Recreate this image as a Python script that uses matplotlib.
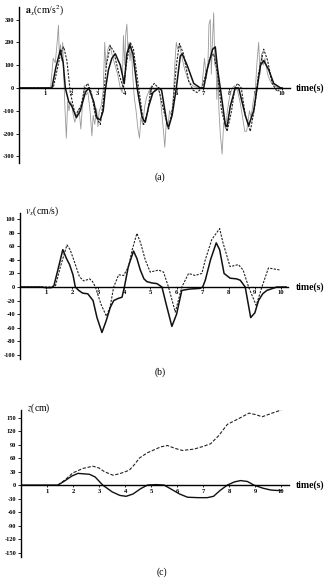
import matplotlib
matplotlib.use("Agg")
import matplotlib.pyplot as plt

W, H = 330, 584

# ---- panel (a): acceleration a_x (cm/s^2) ----
a_noisy_t = [0, 1.2, 1.3, 1.38, 1.45, 1.5, 1.53, 1.58, 1.62, 1.66, 1.7, 1.75, 1.8, 1.85, 1.9, 1.95,
             2.0, 2.05, 2.12, 2.2, 2.28, 2.35, 2.42, 2.48, 2.55, 2.62, 2.7, 2.77, 2.82, 2.88, 2.95,
             3.0, 3.05, 3.12, 3.2, 3.26, 3.3, 3.38, 3.45, 3.55, 3.65, 3.75, 3.85, 3.92, 3.97,
             4.02, 4.06, 4.1, 4.14, 4.18, 4.22, 4.27, 4.32, 4.38, 4.45, 4.52, 4.58, 4.63, 4.7,
             4.78, 4.85, 4.95, 5.05, 5.15, 5.25, 5.35, 5.42, 5.5, 5.54, 5.6, 5.66, 5.72, 5.8,
             5.87, 5.93, 5.98, 6.03, 6.1, 6.2, 6.3, 6.45, 6.6, 6.8, 6.95, 7.05, 7.12, 7.18, 7.22,
             7.27, 7.31, 7.35, 7.4, 7.44, 7.48, 7.52, 7.56, 7.6, 7.65, 7.72, 7.78, 7.85, 7.92,
             8.0, 8.1, 8.2, 8.3, 8.4, 8.5, 8.58, 8.65, 8.7, 8.76, 8.82, 8.9, 8.98, 9.05, 9.11,
             9.16, 9.22, 9.28, 9.35, 9.45, 9.55, 9.7, 9.85, 10.0]
a_noisy = [0, 0, 130, 110, 200, 275, 150, 190, 120, 200, 60, -100, -220, -60, -100, -60,
           -70, -110, -150, -120, -90, -180, -60, 10, -30, -20, -100, -210, -120, -160, -90,
           -170, -100, -80, -10, 200, 90, 170, 190, 140, 100, 60, 0, -20, 230,
           100, 240, 280, 170, 200, 120, 180, 60, -40, -100, -180, -220, -130, -160,
           -80, -40, -10, 10, -10, 0, -20, -100, -200, -260, -150, -180, -100, -120,
           -30, 120, 200, 170, 190, 130, 80, 30, 10, 0, 0, 130, 40, 100, 280,
           300, 60, 200, 330, 100, 150, -50, 80, -100, -200, -290, -150, -180, -100,
           -40, 0, 10, -10, -60, -130, -190, -190, -150, -100, -130, -60, -10, 120, 200,
           60, 150, 100, 130, 60, 30, 10, 0, 0]

a_filt_t = [0, 1.25, 1.4, 1.57, 1.68, 1.76, 1.89, 2.01, 2.18, 2.33, 2.52, 2.65, 2.84, 2.96, 3.09,
            3.2, 3.28, 3.4, 3.53, 3.66, 3.85, 4.0, 4.1, 4.21, 4.33, 4.49, 4.68, 4.8, 4.93, 5.09,
            5.31, 5.42, 5.63, 5.69, 5.82, 5.98, 6.13, 6.2, 6.39, 6.64, 6.89, 7.02, 7.15, 7.36,
            7.46, 7.55, 7.65, 7.84, 7.91, 8.03, 8.22, 8.35, 8.6, 8.73, 8.92, 9.05, 9.18, 9.3,
            9.49, 9.68, 9.94, 10.0]
a_filt = [0, 0, 90, 166, 110, 0, -60, -80, -130, -100, -20, 0, -60, -130, -140,
          -100, -10, 80, 130, 150, 100, 20, 150, 190, 150, 0, -130, -150, -80, -20,
          0, -10, -160, -170, -120, 0, 140, 150, 100, 20, 0, 0, 80, 170,
          180, 80, 0, -160, -170, -80, 0, 0, -120, -165, -100, 0, 100, 120,
          80, 20, 0, 0]

a_model_t = [0, 1.3, 1.45, 1.6, 1.7, 1.82, 1.95, 2.14, 2.35, 2.5, 2.61, 2.75, 2.9, 3.09, 3.2,
             3.32, 3.47, 3.6, 3.8, 3.97, 4.1, 4.23, 4.35, 4.5, 4.74, 4.9, 5.02, 5.14, 5.3, 5.5,
             5.69, 5.85, 5.98, 6.1, 6.25, 6.45, 6.62, 6.77, 6.95, 7.1, 7.25, 7.4, 7.55, 7.7,
             7.91, 8.08, 8.2, 8.31, 8.45, 8.6, 8.79, 8.95, 9.1, 9.3, 9.45, 9.62, 9.81, 10.0]
a_model = [0, 0, 80, 160, 180, 120, -20, -120, -80, 0, 20, -20, -120, -160, -60,
           100, 185, 160, 60, 0, 120, 200, 170, 40, -160, -100, 0, 20, 0, -100,
           -180, -80, 100, 195, 150, 30, -10, -20, 0, 60, 130, 150, 60, -100,
           -190, -100, 0, 20, 0, -120, -190, -90, 60, 170, 120, 20, -15, 0]

# ---- panel (b): velocity v_x (cm/s) ----
v_meas_t = [0, 0.8, 1.0, 1.2, 1.3, 1.45, 1.64, 1.78, 1.9, 2.03, 2.12, 2.25, 2.4, 2.6, 2.8,
            2.95, 3.14, 3.3, 3.46, 3.59, 3.75, 3.91, 4.0, 4.15, 4.35, 4.48, 4.61, 4.75, 4.86,
            5.05, 5.25, 5.44, 5.6, 5.82, 6.0, 6.2, 6.5, 6.9, 7.0, 7.1, 7.3, 7.52, 7.65, 7.82,
            8.05, 8.3, 8.44, 8.63, 8.84, 9.0, 9.14, 9.3, 9.46, 9.84, 10.2]
v_meas = [0, 0, -1, -1, 2, 25, 55, 42, 33, 18, 0, -5, -9, -10, -20,
          -45, -67, -50, -30, -20, -17, -15, 0, 30, 53, 42, 25, 12, 8,
          6, 5, 0, -25, -58, -40, -5, -3, -2, 0, 10, 40, 65, 55, 20,
          13, 12, 10, 0, -45, -38, -20, -10, -5, 0, 0]

v_model_t = [0, 1.3, 1.36, 1.55, 1.8, 1.92, 2.06, 2.28, 2.44, 2.67, 2.78, 2.89, 3.1, 3.31,
             3.45, 3.59, 3.78, 3.97, 4.16, 4.3, 4.48, 4.62, 4.8, 4.99, 5.31, 5.5, 5.69, 5.95,
             6.1, 6.2, 6.46, 6.71, 6.97, 7.1, 7.35, 7.65, 7.78, 8.05, 8.37, 8.55, 8.76, 9.05,
             9.15, 9.27, 9.52, 9.97]
v_model = [0, 0, 2, 30, 62, 55, 40, 15, 9, 12, 8, 0, -25, -43,
           -30, 0, 18, 17, 30, 55, 79, 65, 40, 22, 25, 22, 0, -37,
           -15, 0, 20, 17, 20, 40, 70, 86, 65, 30, 33, 25, 0, -27,
           -15, 0, 28, 25]

# ---- panel (c): position z (cm) ----
z_meas_t = [0, 1.42, 1.7, 1.95, 2.19, 2.63, 2.85, 3.14, 3.5, 3.8, 4.04, 4.3, 4.6, 4.86, 5.2,
            5.5, 5.8, 6.1, 6.4, 6.8, 7.16, 7.4, 7.65, 7.93, 8.2, 8.44, 8.7, 8.95, 9.3, 9.6,
            9.84, 10.0]
z_meas = [0, 0, 10, 20, 26, 24, 18, 0, -15, -23, -25, -20, -8, 0, 1,
          0, -10, -20, -27, -28, -28, -25, -12, 0, 7, 10, 8, 0, -7, -11,
          -12, -12]

z_model_t = [1.42, 1.7, 1.99, 2.38, 2.76, 3.0, 3.2, 3.53, 3.78, 4.16, 4.35, 4.55, 4.86, 5.1,
             5.37, 5.63, 5.9, 6.2, 6.65, 7.0, 7.29, 7.6, 7.93, 8.2, 8.44, 8.76, 9.0, 9.27,
             9.65, 10.0]
z_model = [0, 12, 27, 37, 42, 38, 30, 22, 25, 33, 45, 60, 72, 78,
           85, 88, 82, 77, 80, 86, 92, 110, 135, 143, 150, 160, 157, 152,
           160, 167]

plt.rcParams["font.family"] = ["Liberation Serif", "DejaVu Serif"]
plt.rcParams["mathtext.fontset"] = "stix"

fig = plt.figure(figsize=(W / 100, H / 100), dpi=100)


def px_axes(x0, x1, y_top, y_bot):
    return fig.add_axes([x0 / W, (H - y_bot) / H, (x1 - x0) / W, (y_bot - y_top) / H])


def style_axis(ax, xlim, ylim, yticks, ylabels):
    ax.set_xlim(*xlim)
    ax.set_ylim(*ylim)
    for s in ["top", "right"]:
        ax.spines[s].set_visible(False)
    ax.spines["bottom"].set_position(("data", 0))
    ax.spines["left"].set_linewidth(1.0)
    ax.spines["bottom"].set_linewidth(1.0)
    ax.set_xticks(range(1, 11))
    ax.set_xticklabels([str(i) for i in range(1, 11)], fontsize=4.8, fontweight="bold")
    ax.set_yticks(yticks)
    ax.set_yticklabels(ylabels, fontsize=4.6, fontweight="bold")
    ax.tick_params(axis="x", length=1.5, width=0.6, pad=1)
    ax.tick_params(axis="y", length=2, width=0.6, pad=1.5)
    ax.patch.set_alpha(0)


def label(x, y, s, size, **kw):
    fig.text(x / W, 1 - y / H, s, fontsize=size, va="center", **kw)


# (a)
ax1 = px_axes(19, 290, 7, 163)
ax1.plot(a_noisy_t, a_noisy, color="#999999", lw=0.6)
ax1.plot(a_model_t, a_model, color="#222222", lw=0.8, ls=(0, (2, 1.2)))
ax1.plot(a_filt_t, a_filt, color="#111111", lw=1.1)
yt = [-300, -200, -100, 0, 100, 200, 300]
style_axis(ax1, (0, 10.3), (-329, 355), yt, [str(v) for v in yt])
label(25, 11, r"$\mathbf{a}_x$(cm/s$^2$)", 7)
label(296, 88, "time(s)", 7, fontweight="bold")
label(160, 177, "(a)", 7, ha="center")

# (b)
ax2 = px_axes(20, 288, 213, 359)
ax2.plot(v_model_t, v_model, color="#222222", lw=0.8, ls=(0, (2, 1.2)))
ax2.plot(v_meas_t, v_meas, color="#111111", lw=1.1)
yt = list(range(-100, 101, 20))
style_axis(ax2, (0, 10.27), (-106, 109), yt, [str(v) for v in yt])
label(25, 211, r"$v_x$(cm/s)", 7)
label(296, 287, "time(s)", 7, fontweight="bold")
label(160, 372, "(b)", 7, ha="center")

# (c)
ax3 = px_axes(21, 289, 410, 557)
ax3.plot(z_model_t, z_model, color="#222222", lw=0.8, ls=(0, (3, 1.5)))
ax3.plot(z_meas_t, z_meas, color="#111111", lw=1.0)
yt = list(range(-150, 151, 30))
style_axis(ax3, (0, 10.3), (-160, 167), yt, [str(v) for v in yt])
label(27, 408, r"$z$(cm)", 7)
label(296, 485, "time(s)", 7, fontweight="bold")
label(162, 572, "(c)", 7, ha="center")

fig.savefig("out.png", dpi=100)
